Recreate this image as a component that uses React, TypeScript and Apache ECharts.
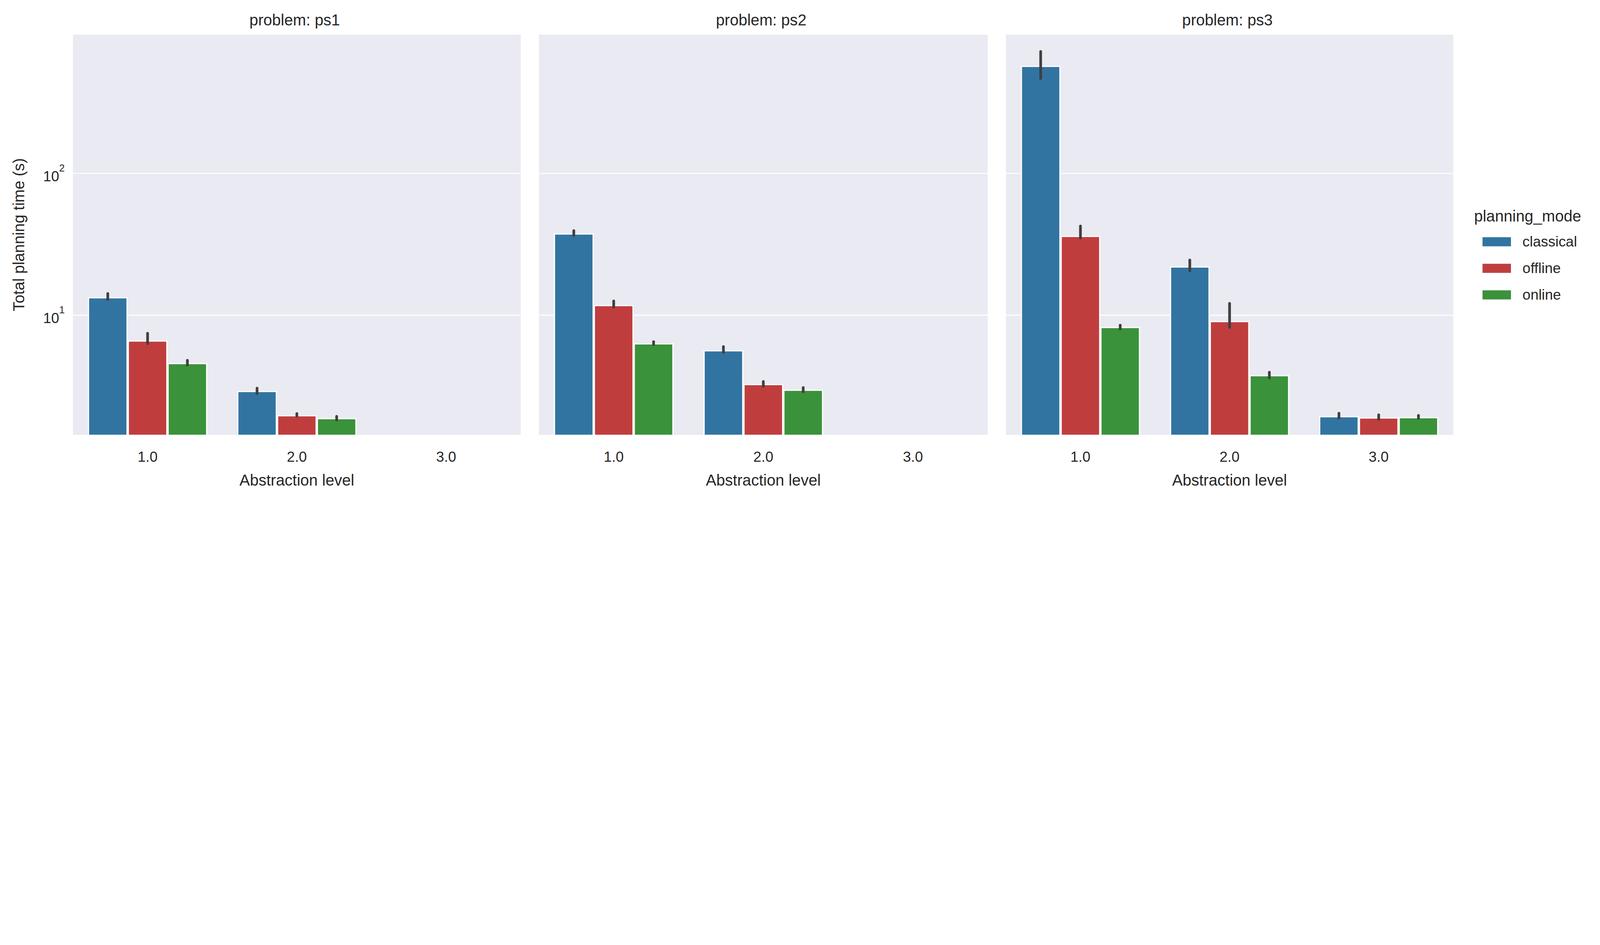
import React, { useEffect, useRef, useState } from "react";
import * as echarts from "echarts";

const problems = ["ps1", "ps2", "ps3"];
const levels = ["1.0", "2.0", "3.0"];
const modes = ["classical", "offline", "online"];
const colors = ["#3274a1", "#c03d3e", "#3a923a"];

// values[problem][mode][level]
const ps1Means = [[13.4, 2.92, null], [6.64, 1.97, null], [4.6, 1.88, null]];
const ps2Means = [[37.8, 5.66, null], [11.8, 3.27, null], [6.34, 2.98, null]];
const ps3Means = [[575, 22.1, 1.94], [36.3, 9.1, 1.9], [8.26, 3.78, 1.91]];
const ps1Lo = [[12.9, 2.8, null], [6.3, 1.94, null], [4.45, 1.82, null]];
const ps1Hi = [[14.2, 3.05, null], [7.45, 2.02, null], [4.8, 1.93, null]];
const ps2Lo = [[36.5, 5.45, null], [11.4, 3.15, null], [6.2, 2.88, null]];
const ps2Hi = [[39.5, 6.0, null], [12.6, 3.4, null], [6.5, 3.08, null]];
const ps3Lo = [[468, 20.5, 1.88], [35, 8.2, 1.84], [8.0, 3.6, 1.87]];
const ps3Hi = [[725, 24.5, 2.03], [42.5, 12.1, 1.98], [8.5, 3.95, 1.96]];

const allMeans = [ps1Means, ps2Means, ps3Means];
const allLo = [ps1Lo, ps2Lo, ps3Lo];
const allHi = [ps1Hi, ps2Hi, ps3Hi];

const yMin = 1.42;
const yMax = 964;

const W = 7764;
const H = 2419;
const panels = [
  { left: 354, width: 2173 },
  { left: 2615, width: 2178 },
  { left: 4881, width: 2171 },
];
const gridTop = 165;
const gridHeight = 1947;
const font = "Liberation Sans, Arial, sans-serif";
const txt = "#262626";

export default function App() {
  const ref = useRef<HTMLDivElement>(null);
  const [scale, setScale] = useState(1);
  useEffect(() => {
    document.body.style.margin = "0";
    document.body.style.overflow = "hidden";
    const s = Math.min(window.innerWidth / W, window.innerHeight / H);
    setScale(s > 0 ? s : 1);
  }, []);
  useEffect(() => {
    const chart = echarts.init(ref.current!, null, { renderer: "svg" });
    const grid: any[] = [];
    const xAxis: any[] = [];
    const yAxis: any[] = [];
    const series: any[] = [];
    const graphic: any[] = [];
    panels.forEach((p, pi) => {
      grid.push({ left: p.left, width: p.width, top: gridTop, height: gridHeight, show: true, backgroundColor: "#eaeaf2", borderWidth: 0 });
      xAxis.push({
        type: "category", gridIndex: pi, data: levels,
        axisLine: { show: false }, axisTick: { show: false },
        axisLabel: { fontSize: 70, color: txt, fontFamily: font, margin: 70 },
        name: "Abstraction level", nameLocation: "middle", nameGap: 180,
        nameTextStyle: { fontSize: 76, color: txt, fontFamily: font },
      });
      yAxis.push({
        type: "log", logBase: 10, gridIndex: pi, min: yMin, max: yMax,
        axisLine: { show: false }, axisTick: { show: false },
        splitLine: { show: true, lineStyle: { color: "#ffffff", width: 5 } },
        axisLabel: {
          show: pi === 0, showMinLabel: false, showMaxLabel: false, margin: 40,
          formatter: (v: number) => {
            const e = Math.round(Math.log10(v));
            if (Math.abs(Math.log10(v) - e) > 1e-6) return "";
            return `{a|10}{b|${e}}`;
          },
          rich: {
            a: { fontSize: 70, color: txt, fontFamily: font, lineHeight: 100, verticalAlign: "bottom" },
            b: { fontSize: 48, color: txt, fontFamily: font, lineHeight: 100, verticalAlign: "top" },
          },
        },
        name: pi === 0 ? "Total planning time (s)" : "", nameLocation: "middle", nameGap: 225,
        nameTextStyle: { fontSize: 76, color: txt, fontFamily: font },
      });
      modes.forEach((m, mi) => {
        series.push({
          type: "bar", name: m, xAxisIndex: pi, yAxisIndex: pi,
          data: allMeans[pi][mi], barGap: "0%", barCategoryGap: "20%",
          itemStyle: { color: colors[mi], borderColor: "#ffffff", borderWidth: 6 },
        });
      });
      const ebData: any[] = [];
      modes.forEach((_, mi) => levels.forEach((_, li) => {
        const lo = allLo[pi][mi][li];
        const hi = allHi[pi][mi][li];
        if (lo != null && hi != null) ebData.push([li, lo, hi, mi]);
      }));
      series.push({
        type: "custom", xAxisIndex: pi, yAxisIndex: pi, data: ebData, z: 10,
        encode: { x: 0, y: [1, 2] },
        renderItem: (params: any, api: any) => {
          const li = api.value(0), lo = api.value(1), hi = api.value(2), mi = api.value(3);
          const a = api.coord([li, lo]);
          const b = api.coord([li, hi]);
          const band = api.size([1, 0])[0];
          const bw = (band * 0.8) / 3;
          const x = a[0] + (mi - 1) * bw;
          return {
            type: "line",
            shape: { x1: x, y1: a[1], x2: x, y2: b[1] },
            style: { stroke: "#3f3f3f", lineWidth: 13, lineCap: "round" },
          };
        },
      });
      graphic.push({
        type: "text", left: p.left + p.width / 2 - 230, top: 58,
        style: { text: `problem: ${problems[pi]}`, fontSize: 76, fill: txt, fontFamily: font, width: 460, align: "center" },
      });
    });
    graphic.push({
      type: "text", left: 7153, top: 1010,
      style: { text: "planning_mode", fontSize: 76, fill: txt, fontFamily: font },
    });
    const option: any = {
      animation: false,
      backgroundColor: "#ffffff",
      grid, xAxis, yAxis, series, graphic,
      legend: {
        data: modes, orient: "vertical", left: 7187, top: 1133,
        itemWidth: 140, itemHeight: 46, itemGap: 59, icon: "rect",
        textStyle: { fontSize: 70, color: txt, fontFamily: font, padding: [0, 0, 0, 50] },
      },
    };
    chart.setOption(option);
    return () => chart.dispose();
  }, []);
  return (
    <div style={{ width: W * scale, height: H * scale, overflow: "hidden" }}>
      <div ref={ref} style={{ width: W, height: H, transform: `scale(${scale})`, transformOrigin: "0 0" }} />
    </div>
  );
}
